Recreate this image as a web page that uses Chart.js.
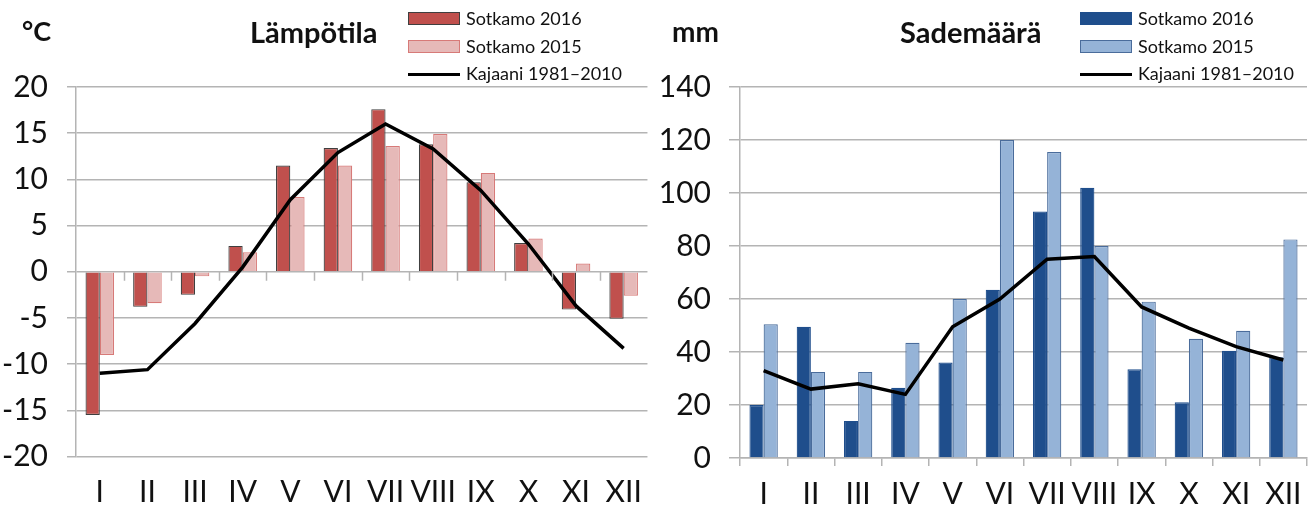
<!DOCTYPE html>
<html>
<head>
<meta charset="utf-8">
<script src="https://cdn.jsdelivr.net/npm/chart.js@4"></script>
<style>
  html, body { margin:0; padding:0; background:#fff; }
  body { width:1314px; height:506px; position:relative; overflow:hidden; font-family: Lato, "Open Sans", sans-serif; color:#111; }
  .box { position:absolute; top:0; height:506px; }
  .txt { position:absolute; white-space:nowrap; line-height:1; }
  .bold { font-weight:bold; }
  .sw { position:absolute; box-sizing:border-box; }
</style>
</head>
<body>
<div class="box" style="left:0;width:660px"><canvas id="c1"></canvas></div>
<div class="box" style="left:660px;width:654px"><canvas id="c2"></canvas></div>

<div class="txt bold" style="left:22px;top:17px;font-size:27px">°C</div>
<div class="txt bold" style="left:250px;top:17px;font-size:29px">Lämpötila</div>
<div class="txt bold" style="left:672px;top:17px;font-size:28px">mm</div>
<div class="txt bold" style="left:900px;top:17px;font-size:29px">Sademäärä</div>

<div id="leg1"></div>
<div id="leg2"></div>

<script>
const months = ["I","II","III","IV","V","VI","VII","VIII","IX","X","XI","XII"];

const tempLabels = ["Sotkamo 2016","Sotkamo 2015","Kajaani 1981–2010"];
const temp2016 = [-15.5,-3.8,-2.5,2.8,11.5,13.4,17.6,13.8,9.7,3.1,-4.1,-5.1];
const temp2015 = [-9.0,-3.4,-0.5,2.1,8.1,11.5,13.6,14.9,10.7,3.6,0.9,-2.6];
const tempNormal = [-11.0,-10.6,-5.6,0.5,7.8,12.9,16.0,13.3,8.8,3.0,-3.7,-8.3];

const rainLabels = ["Sotkamo 2016","Sotkamo 2015","Kajaani 1981–2010"];
const rain2016 = [20,49.5,14,26.5,36,63.5,93,102,33.5,21,40.5,38];
const rain2015 = [50.5,32.5,32.5,43.5,60,120,115.5,80,59,45,48,82.5];
const rainNormal = [33,26,28,24,49.5,60,75,76,57,49,42,37];

const tempTicks = {min:-20, max:20, step:5};
const rainTicks = {min:0, max:140, step:20};

const GRID = '#b4b4b4';
const FONT = {family:'Lato', size:30, lineHeight:1.2};

function legend(el, x, items){
  let html='';
  const rows=[19,47,74];
  items.forEach((it,i)=>{
    const cy=rows[i];
    if(it.type==='bar'){
      html+=`<div class="sw" style="left:${x}px;top:${cy-7}px;width:52px;height:13px;background:${it.fill};border:1px solid ${it.border}"></div>`;
    } else {
      html+=`<div class="sw" style="left:${x}px;top:${cy-1.5}px;width:52px;height:3px;background:#000"></div>`;
    }
    html+=`<div class="txt" style="left:${x+58}px;top:${cy-10}px;font-size:18px">${it.label}</div>`;
  });
  document.getElementById(el).innerHTML=html;
}

const zeroTicks = {
  id:'zeroTicks',
  afterDatasetsDraw(chart){
    const xs=chart.scales.x, ys=chart.scales.y, ctx=chart.ctx;
    const y0=ys.getPixelForValue(0);
    const n=chart.data.labels.length;
    const w=(xs.right-xs.left)/n;
    ctx.save();
    ctx.strokeStyle=GRID; ctx.lineWidth=1.5;
    for(let i=1;i<n;i++){
      const x=Math.round(xs.left+i*w)+0.5;
      ctx.beginPath(); ctx.moveTo(x,y0); ctx.lineTo(x,y0+9); ctx.stroke();
    }
    ctx.restore();
  }
};

function makeChart(id, labels, names, a, b, c, colors, tk, opts){
  return new Chart(document.getElementById(id), {
    type:'bar',
    data:{
      labels: labels,
      datasets:[
        {label:names[0], data:a, backgroundColor:colors[0], borderColor:colors[1], borderWidth:1.2, order:2,
         categoryPercentage:0.6, barPercentage:1.0},
        {label:names[1], data:b, backgroundColor:colors[2], borderColor:colors[3], borderWidth:1.2, order:2,
         categoryPercentage:0.6, barPercentage:1.0},
        {type:'line', label:names[2], data:c, borderColor:'#000', borderWidth:3.5, pointRadius:0, tension:0, order:1, fill:false}
      ]
    },
    options:{
      responsive:true, maintainAspectRatio:false, animation:false,
      layout:{padding:{top:87, right:opts.padRight, left:0, bottom:0}},
      plugins:{legend:{display:false}, tooltip:{enabled:false}},
      scales:{
        x:{
          grid: opts.xGrid,
          border:{display:opts.xBorder, color:GRID, width:1.5},
          ticks:{font:FONT, color:'#111', padding:opts.xPad, maxRotation:0, autoSkip:false},
          afterFit(s){ s.height = opts.xHeight; }
        },
        y:{
          min:tk.min, max:tk.max,
          grid:{color:GRID, lineWidth:1.5, tickLength:opts.yTick},
          border:{display:true, color:GRID, width:1.5},
          ticks:{stepSize:tk.step, font:FONT, color:'#111', padding:opts.yPad},
          afterFit(s){ s.width = opts.yWidth; }
        }
      }
    },
    plugins: opts.plugins
  });
}

makeChart('c1', months, tempLabels, temp2016, temp2015, tempNormal,
  ['#c0504d','#3f3f3f','#e6b9b8','#d77a78'], tempTicks,
  {padRight:5, xGrid:{display:true, drawOnChartArea:false, drawTicks:false, color:GRID}, xBorder:false, xPad:18, xHeight:49.5,
   yTick:9, yPad:19, yWidth:76, plugins:[zeroTicks]});

makeChart('c2', months, rainLabels, rain2016, rain2015, rainNormal,
  ['#1f4e8c','#1f4e8c','#95b3d7','#4a6c9b'], rainTicks,
  {padRight:7, xGrid:{display:true, drawOnChartArea:false, offset:true, tickLength:8, color:GRID, lineWidth:1.5},
   xBorder:true, xPad:10, xHeight:48,
   yTick:11, yPad:18, yWidth:80, plugins:[]});

legend('leg1', 408, [
  {type:'bar', label:tempLabels[0], fill:'#c0504d', border:'#3f3f3f'},
  {type:'bar', label:tempLabels[1], fill:'#e6b9b8', border:'#d77a78'},
  {type:'line', label:tempLabels[2]}
]);
legend('leg2', 1080, [
  {type:'bar', label:rainLabels[0], fill:'#1f4e8c', border:'#1f4e8c'},
  {type:'bar', label:rainLabels[1], fill:'#95b3d7', border:'#4a6c9b'},
  {type:'line', label:rainLabels[2]}
]);
</script>
</body>
</html>
